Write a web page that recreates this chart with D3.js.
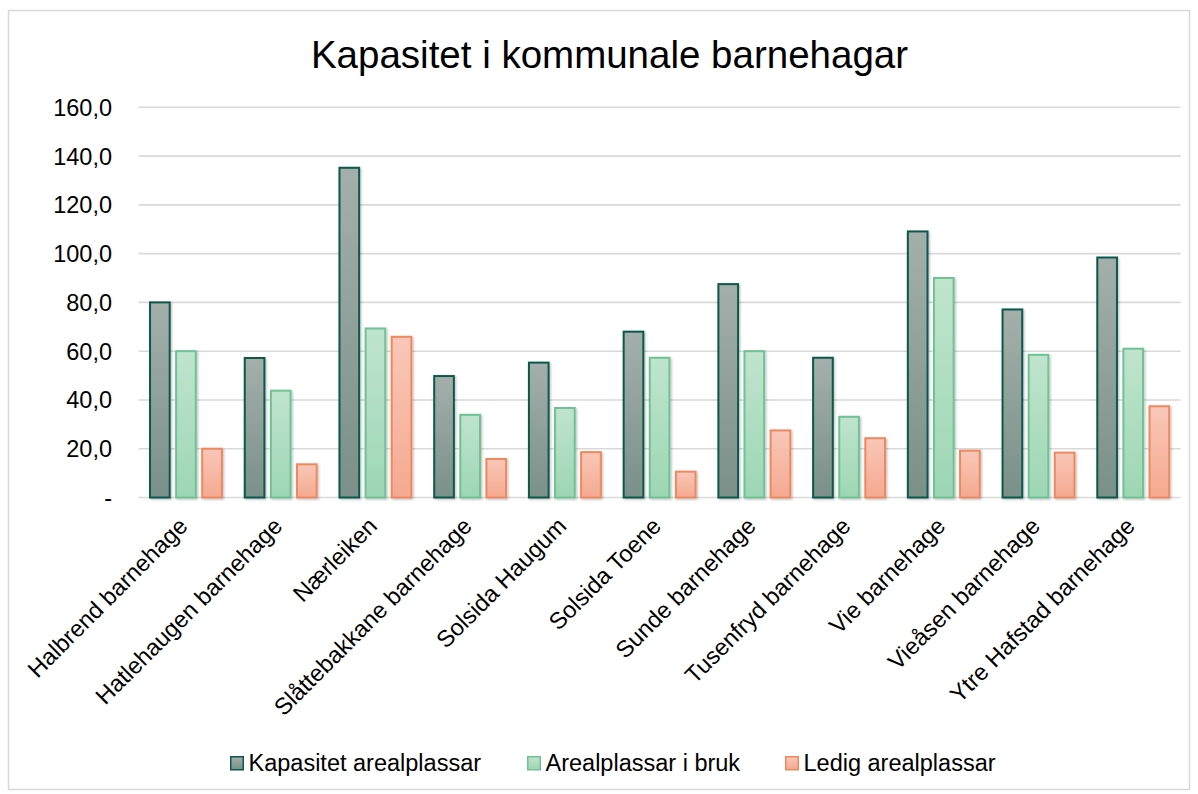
<!DOCTYPE html>
<html><head><meta charset="utf-8">
<script src="https://cdn.jsdelivr.net/npm/d3@7/dist/d3.min.js"></script>
<style>body{margin:0;background:#fff}svg{display:block}text{font-family:"Liberation Sans",Arial,sans-serif;fill:#000}</style>
</head><body>
<script>
const categories = ["Halbrend barnehage","Hatlehaugen barnehage","Nærleiken","Slåttebakkane barnehage","Solsida Haugum","Solsida Toene","Sunde barnehage","Tusenfryd barnehage","Vie barnehage","Vieåsen barnehage","Ytre Hafstad barnehage"];
const seriesNames = ["Kapasitet arealplassar","Arealplassar i bruk","Ledig arealplassar"];
const kapasitet = [80.0, 57.2, 135.2, 49.8, 55.3, 68.0, 87.5, 57.3, 109.1, 77.1, 98.4];
const iBruk     = [60.0, 43.8, 69.3, 33.9, 36.7, 57.3, 60.0, 33.1, 90.0, 58.5, 61.0];
const ledig     = [20.0, 13.6, 65.9, 15.8, 18.6, 10.6, 27.5, 24.3, 19.2, 18.4, 37.4];
const yTicks = [0,20,40,60,80,100,120,140,160];
const yTickLabels = ["-","20,0","40,0","60,0","80,0","100,0","120,0","140,0","160,0"];
const title = "Kapasitet i kommunale barnehagar";

const W=1198,H=794;
const svg=d3.select("body").append("svg").attr("width",W).attr("height",H);
const defs=svg.append("defs");
const styles=[
  {top:"#a4afab",bot:"#7a9089",stroke:"#0d584c"},
  {top:"#c0e4ce",bot:"#9dd6b4",stroke:"#6fc294"},
  {top:"#f9c7b8",bot:"#f5a990",stroke:"#ec8960"}
];
styles.forEach((s,i)=>{
  const g=defs.append("linearGradient").attr("id","g"+i).attr("x1",0).attr("y1",0).attr("x2",0).attr("y2",1);
  g.append("stop").attr("offset","0%").attr("stop-color",s.top);
  g.append("stop").attr("offset","100%").attr("stop-color",s.bot);
});
const f=defs.append("filter").attr("id","sh").attr("x","-20%").attr("y","-20%").attr("width","150%").attr("height","150%");
f.append("feDropShadow").attr("dx",1.2).attr("dy",1.2).attr("stdDeviation",1.3).attr("flood-color","#000").attr("flood-opacity",0.25);

svg.append("rect").attr("x",8.5).attr("y",10.5).attr("width",1181).attr("height",779).attr("fill","#fff").attr("stroke","#d9d9d9").attr("stroke-width",1.5);

svg.append("text").attr("x",609.5).attr("y",67.5).attr("text-anchor","middle").style("font-size","38.5px").text(title);

const x0=d3.scaleBand().domain(categories).range([138.6,1180.6]).paddingInner(0.22).paddingOuter(0.11);
const x1=d3.scaleBand().domain(seriesNames).range([0,x0.bandwidth()]).paddingInner(0.17);
const y=d3.scaleLinear().domain([0,160]).range([497.5,107.3]);

// gridlines
svg.append("g").selectAll("line").data(yTicks).join("line")
  .attr("x1",138.6).attr("x2",1180.6).attr("y1",d=>y(d)).attr("y2",d=>y(d))
  .attr("stroke","#d9d9d9").attr("stroke-width",1.6);

// y labels
svg.append("g").selectAll("text").data(yTicks).join("text")
  .attr("x",112).attr("y",d=>y(d)).attr("dy","0.36em").attr("text-anchor","end")
  .style("font-size","23.5px").text((d,i)=>yTickLabels[i]);

const seriesData=[kapasitet,iBruk,ledig];
seriesData.forEach((vals,si)=>{
  svg.append("g").selectAll("rect").data(vals).join("rect")
    .attr("x",(d,i)=>x0(categories[i])+x1(seriesNames[si])+1)
    .attr("width",x1.bandwidth()-2)
    .attr("y",d=>y(d))
    .attr("height",d=>y(0)-y(d))
    .attr("fill","url(#g"+si+")")
    .attr("stroke",styles[si].stroke).attr("stroke-width",2)
    .attr("filter","url(#sh)");
});

// x labels
svg.append("g").selectAll("text").data(categories).join("text")
  .attr("transform",d=>`translate(${x0(d)+x0.bandwidth()/2+3},${527.5}) rotate(-45)`)
  .attr("text-anchor","end")
  .style("font-size","23.5px").text(d=>d);

// legend
const legX=[230,527,785];
const lg=svg.append("g");
seriesNames.forEach((n,i)=>{
  lg.append("rect").attr("x",legX[i]+0.75).attr("y",756.75).attr("width",12.5).attr("height",13)
    .attr("fill","url(#g"+i+")").attr("stroke",styles[i].stroke).attr("stroke-width",1.5);
  lg.append("text").attr("x",legX[i]+18.5).attr("y",771).style("font-size","23.5px").text(n);
});
</script>
</body></html>
